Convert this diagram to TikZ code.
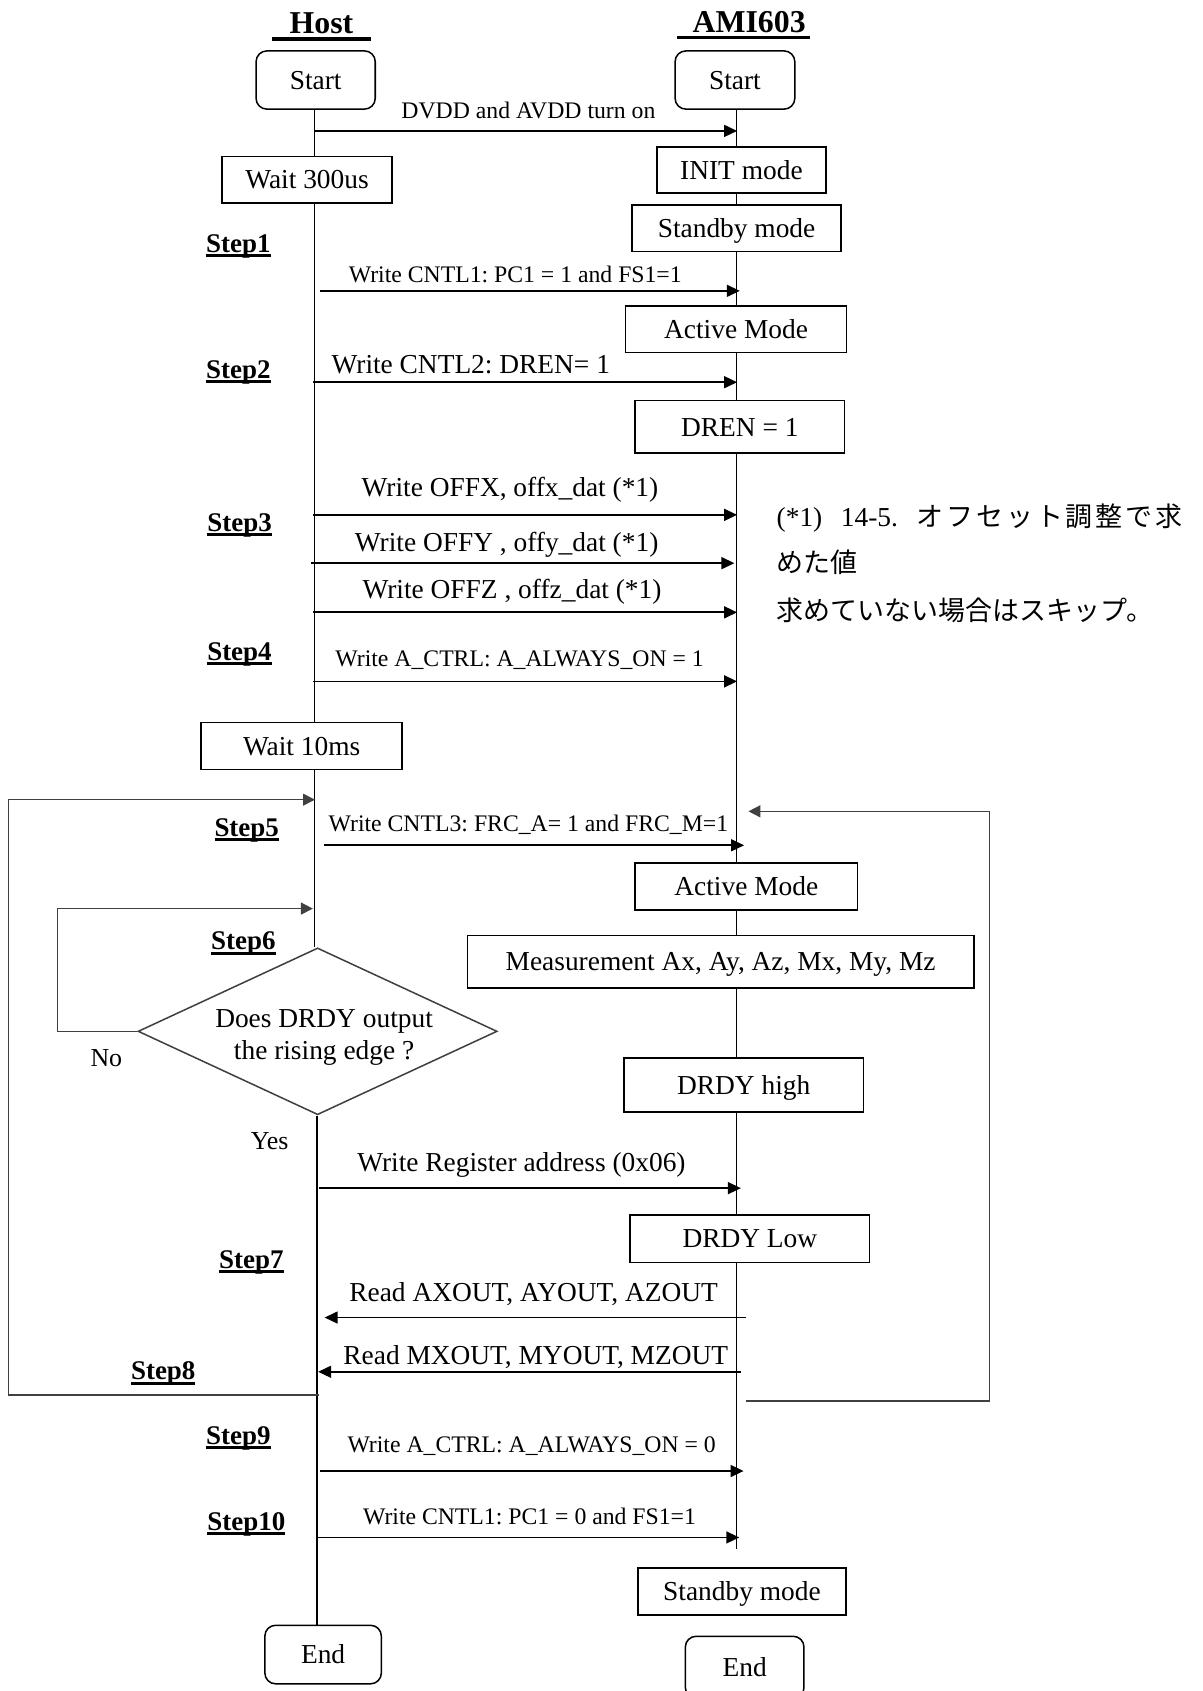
\documentclass[tikz,border=0pt]{standalone}
\usepackage{fontspec}
\setmainfont{Liberation Serif}
\newfontfamily\cjkfont{Noto Sans CJK JP}
\usetikzlibrary{arrows.meta,shapes.geometric}
\definecolor{loopgray}{RGB}{64,64,64}
\frenchspacing
\newcommand\fL{\fontsize{25.4}{30}\selectfont}
\newcommand\fS{\fontsize{22}{26}\selectfont}
\newcommand\fStep{\fontsize{25}{30}\selectfont\bfseries}
\newcommand\fTitle{\fontsize{29.5}{34}\selectfont\bfseries}
\newcommand\ulstep[1]{\setbox0=\hbox{#1}\rlap{\rule[-4.5pt]{\wd0}{2.8pt}}\box0}
\newcommand\ultitle[1]{\setbox0=\hbox{#1}\rlap{\rule[-6.8pt]{\wd0}{3.1pt}}\box0}
\begin{document}
\begin{tikzpicture}[x=1pt,y=-1pt,
  box/.style={draw, line width=1.4pt, fill=white, inner sep=0pt, text height=17pt, text depth=0pt, font=\fL},
  rbox/.style={box, rounded corners=10pt},
  msg/.style={line width=1.6pt, -{Triangle[length=12pt,width=11pt]}},
  backarrow/.style={color=loopgray, line width=1.4pt, -{Triangle[length=11pt,width=11pt]}},
  life/.style={line width=1.2pt},
  lbl/.style={anchor=base, inner sep=0pt, font=\fS},
  lblL/.style={anchor=base, inner sep=0pt, font=\fL},
  steplbl/.style={anchor=base west, inner sep=0pt, font=\fStep},
  note/.style={anchor=base west, inner sep=0pt, font=\fL},
  jnote/.style={anchor=base west, inner sep=0pt, font={\fontsize{25}{30}\cjkfont}},
]
\fill[white] (0,0) rectangle (1115,1568);
\useasboundingbox (0,0) rectangle (1115,1568);

% titles
\node[anchor=base west, inner sep=0pt, font=\fTitle] (thost) at (252,30.9) {\ultitle{\hspace{16.4pt}Host\hspace{16.3pt}}};
\node[anchor=base west, inner sep=0pt, font=\fTitle] (tami) at (628,29.8) {\ultitle{\hspace{14pt}AMI603\hspace{4pt}}};

% host column
\node[rbox, minimum width=110.5pt, minimum height=54pt] (hstart) at (292.7,74.2) {Start};
\node[box, minimum width=157.5pt, minimum height=43.5pt] (wait300) at (284.7,166.7) {Wait 300us};
\node[box, minimum width=186.5pt, minimum height=43.8pt] (wait10) at (279.7,691.7) {Wait 10ms};
\node[diamond, draw=loopgray, line width=1.4pt, fill=white, inner sep=0pt, minimum width=333pt, minimum height=154.7pt] (dia) at (294.5,956.3) {};
\node[lblL] (dia1) at (300.5,953) {Does DRDY output};
\node[lblL] (dia2) at (300.5,982.5) {the rising edge ?};
\node[rbox, minimum width=108pt, minimum height=54.3pt] (hend) at (299.6,1534.2) {End};

% AMI column
\node[rbox, minimum width=111pt, minimum height=54pt] (astart) at (681.5,74.2) {Start};
\node[box, minimum width=157pt, minimum height=43pt] (init) at (687.5,157.6) {INIT mode};
\node[box, minimum width=194pt, minimum height=43pt] (stby1) at (683,211.5) {Standby mode};
\node[box, minimum width=205pt, minimum height=43.3pt] (act1) at (682.5,305.3) {Active Mode};
\node[box, minimum width=194pt, minimum height=48.8pt] (dren) at (686,395.8) {DREN = 1};
\node[box, minimum width=206pt, minimum height=44pt] (act2) at (692,822) {Active Mode};
\node[box, minimum width=469.5pt, minimum height=48.5pt] (meas) at (668.2,891.7) {Measurement Ax, Ay, Az, Mx, My, Mz};
\node[box, minimum width=222pt, minimum height=50pt] (drdyh) at (689.6,1006) {DRDY high};
\node[box, minimum width=221.8pt, minimum height=44pt] (drdyl) at (695.3,1148.6) {DRDY Low};
\node[box, minimum width=193pt, minimum height=43.8pt] (stby2) at (688,1475.6) {Standby mode};
\node[rbox, minimum width=110pt, minimum height=57.5pt] (aend) at (690.5,1546) {End};

% lifelines
\coordinate (hx) at (291.5,0);
\coordinate (hx2) at (294,0);
\coordinate (ax) at (683,0);
\coordinate (aend0) at (683,1436);
\draw[life] (hx |- hstart.south) -- (hx |- wait300.north);
\draw[life] (hx |- wait300.south) -- (hx |- wait10.north);
\draw[life] (hx |- wait10.south) -- (hx |- dia.north);
\draw[life] (hx2 |- dia.south) -- (hx2 |- hend.north);
\draw[life] (ax |- astart.south) -- (ax |- init.north);
\draw[life] (ax |- init.south) -- (ax |- stby1.north);
\draw[life] (ax |- stby1.south) -- (ax |- act1.north);
\draw[life] (ax |- act1.south) -- (ax |- dren.north);
\draw[life] (ax |- dren.south) -- (ax |- act2.north);
\draw[life] (ax |- act2.south) -- (ax |- meas.north);
\draw[life] (ax |- meas.south) -- (ax |- drdyh.north);
\draw[life] (ax |- drdyh.south) -- (ax |- drdyl.north);
\draw[life] (ax |- drdyl.south) -- (aend0);

% message arrows
\coordinate (m1s) at (291.8,121.4);  \coordinate (m1e) at (683.5,121.4);
\coordinate (m2s) at (296.5,269.7);  \coordinate (m2e) at (686,269.7);
\coordinate (m3s) at (290.5,354.4);  \coordinate (m3e) at (683.5,354.4);
\coordinate (m4s) at (290.5,477.4);  \coordinate (m4e) at (683.5,477.4);
\coordinate (m5s) at (288.6,522.2);  \coordinate (m5e) at (681,522.2);
\coordinate (m6s) at (290.5,567.8);  \coordinate (m6e) at (683.5,567.8);
\coordinate (m7s) at (290.5,631.8);  \coordinate (m7e) at (683.5,631.8);
\coordinate (m8s) at (300,783.8);    \coordinate (m8e) at (690,783.8);
\coordinate (m9s) at (295.7,1101.7); \coordinate (m9e) at (687,1101.7);
\coordinate (m10s) at (692,1221.7);  \coordinate (m10e) at (301,1221.7);
\coordinate (m11s) at (687,1272);    \coordinate (m11e) at (295,1272);
\coordinate (m12s) at (297,1364);    \coordinate (m12e) at (689.5,1364);
\coordinate (m13s) at (294,1425.6);  \coordinate (m13e) at (685.5,1425.6);
\foreach \i in {1,...,13} {\draw[msg] (m\i s) -- (m\i e);}

% message labels
\node[lbl] (l1) at (490,109.7) {DVDD and AVDD turn on};
\node[lbl] (l2) at (477.8,262) {Write CNTL1: PC1 = 1 and FS1=1};
\node[lblL, anchor=base west] (l3) at (307.3,346.7) {Write CNTL2: DREN= 1};
\node[lblL] (l4) at (472.9,460.3) {Write OFFX, offx\_dat (*1)};
\node[lblL] (l5) at (469.8,511.3) {Write OFFY , offy\_dat (*1)};
\node[lblL] (l6) at (474.8,554.5) {Write OFFZ , offz\_dat (*1)};
\node[lbl] (l7) at (481.8,617.9) {Write A\_CTRL: A\_ALWAYS\_ON = 1};
\node[lbl] (l8) at (490,770.8) {Write CNTL3: FRC\_A= 1 and FRC\_M=1};
\node[lblL] (l9) at (483.5,1086.7) {Write Register address (0x06)};
\node[lblL] (l10) at (494.8,1206.5) {Read AXOUT, AYOUT, AZOUT};
\node[lblL] (l11) at (496.8,1265.6) {Read MXOUT, MYOUT, MZOUT};
\node[lbl] (l12) at (493,1347) {Write A\_CTRL: A\_ALWAYS\_ON = 0};
\node[lbl] (l13) at (491,1413.6) {Write CNTL1: PC1 = 0 and FS1=1};

% loops
\coordinate (lb) at (296,1293.5); \coordinate (lc) at (7.7,1293.5); \coordinate (lt) at (292,741.5);
\draw[backarrow] (lb) -- (lc) |- (lt);
\coordinate (rb) at (692,1299); \coordinate (rc) at (917.6,1299); \coordinate (rt) at (694,752.3);
\draw[backarrow] (rb) -- (rc) |- (rt);
\coordinate (nc) at (53.3,956.3); \coordinate (nt) at (290.1,842.5);
\draw[backarrow] (dia.west) -- (nc) |- (nt);
\node[anchor=base, inner sep=0pt, font=\fontsize{24}{28}\selectfont] (no) at (98.6,988.6) {No};
\node[anchor=base, inner sep=0pt, font=\fontsize{24}{28}\selectfont] (yes) at (250,1066) {Yes};

% step labels
\node[steplbl] (st1) at (191,234) {\ulstep{Step1}};
\node[steplbl] (st2) at (191,350.7) {\ulstep{Step2}};
\node[steplbl] (st3) at (192.2,492.8) {\ulstep{Step3}};
\node[steplbl] (st4) at (192,612.3) {\ulstep{Step4}};
\node[steplbl] (st5) at (198.7,775.5) {\ulstep{Step5}};
\node[steplbl] (st6) at (195.6,880.6) {\ulstep{Step6}};
\node[steplbl] (st7) at (203,1176) {\ulstep{Step7}};
\node[steplbl] (st8) at (121.3,1279.3) {\ulstep{Step8}};
\node[steplbl] (st9) at (191,1339) {\ulstep{Step9}};
\node[steplbl] (st10) at (192.2,1419) {\ulstep{Step10}};

% note
\node[note] (n1a) at (720,488) {(*1)};
\node[note] (n1b) at (779.6,488) {14-5.};
\node[jnote] (n1c) at (850,488) {\makebox[246pt][s]{オ\hfill フ\hfill セ\hfill ッ\hfill ト\hfill 調\hfill 整\hfill で\hfill 求}};
\node[jnote] (n2) at (720,530.5) {めた値};
\node[jnote] (n3) at (720,575) {求めていない場合はスキップ。};
\end{tikzpicture}
\end{document}
